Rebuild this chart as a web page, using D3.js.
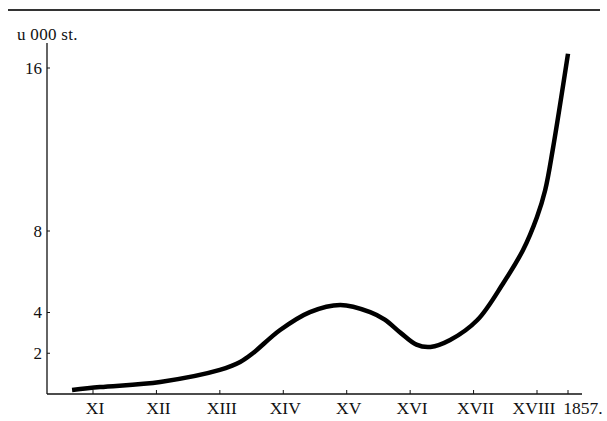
<!DOCTYPE html>
<html lang="en">
<head>
<meta charset="utf-8">
<title>u 000 st.</title>
<script src="https://d3js.org/d3.v7.min.js"></script>
<style>
  body { margin: 0; background: #fff; }
  svg { display: block; }
  text { font-family: "Liberation Serif", "DejaVu Serif", serif; fill: #111; }
</style>
</head>
<body>
<svg id="chart" width="607" height="421"></svg>
<script>
// population curve, thousands
var years  = [1067, 1111, 1206, 1300, 1332, 1352, 1395, 1442, 1490, 1537, 1560, 1585, 1610, 1632, 1663, 1706, 1747, 1778, 1800, 1815, 1829, 1857]
var values = [0.2, 0.34, 0.59, 1.18, 1.57, 2.0, 3.14, 4.02, 4.37, 4.02, 3.65, 3.0, 2.42, 2.31, 2.65, 3.63, 5.45, 7.07, 8.69, 10.0, 12.0, 16.7]

// axis ticks
var xTickYears  = [1100, 1200, 1300, 1400, 1500, 1600, 1700, 1800, 1857]
var xTickLabels = ["XI", "XII", "XIII", "XIV", "XV", "XVI", "XVII", "XVIII", "1857."]
var yTicks = [2, 4, 8, 16]
var yUnit = "u 000 st."

var svg = d3.select("#chart")

// rule across the top
svg.append("line")
  .attr("x1", 8).attr("x2", 600)
  .attr("y1", 10).attr("y2", 10)
  .attr("stroke", "#333").attr("stroke-width", 2)

var x = d3.scaleLinear()
  .domain([1100, 1800, 1857])
  .range([93, 537, 568])

var y = d3.scaleLinear()
  .domain([0, 16])
  .range([394, 68])

// axes lines
svg.append("line")
  .attr("x1", 47).attr("x2", 47)
  .attr("y1", 43).attr("y2", y(0))
  .attr("stroke", "#111").attr("stroke-width", 1.3)
svg.append("line")
  .attr("x1", 47).attr("x2", 582)
  .attr("y1", y(0)).attr("y2", y(0))
  .attr("stroke", "#111").attr("stroke-width", 1.3)

// y ticks
var yt = svg.append("g")
yt.selectAll("line").data(yTicks).join("line")
  .attr("x1", 47).attr("x2", 50)
  .attr("y1", d => y(d)).attr("y2", d => y(d))
  .attr("stroke", "#111")
yt.selectAll("text").data(yTicks).join("text")
  .attr("x", 42)
  .attr("y", d => y(d))
  .attr("dy", "0.35em")
  .attr("text-anchor", "end")
  .attr("font-size", 17)
  .text(d => d)

svg.append("text")
  .attr("x", 17).attr("y", 40)
  .attr("font-size", 17)
  .attr("letter-spacing", 0.3)
  .text(yUnit)

// x ticks
var xt = svg.append("g")
xt.selectAll("line").data(xTickYears).join("line")
  .attr("x1", d => x(d)).attr("x2", d => x(d))
  .attr("y1", y(0)).attr("y2", y(0) - 4)
  .attr("stroke", "#111")
xt.selectAll("text").data(xTickYears).join("text")
  .attr("x", (d, i) => i == xTickYears.length - 1 ? x(d) + 15 : (i == xTickYears.length - 2 ? x(d) - 3 : x(d) + 2))
  .attr("y", 414)
  .attr("text-anchor", "middle")
  .attr("font-size", 17.5)
  .text((d, i) => xTickLabels[i])

// the curve
var line = d3.line()
  .x((d, i) => x(years[i]))
  .y(d => y(d))
  .curve(d3.curveCatmullRom.alpha(0.5))

svg.append("path")
  .datum(values)
  .attr("fill", "none")
  .attr("stroke", "#000")
  .attr("stroke-width", 4.5)
  .attr("stroke-linejoin", "round")
  .attr("d", line)
</script>
</body>
</html>
